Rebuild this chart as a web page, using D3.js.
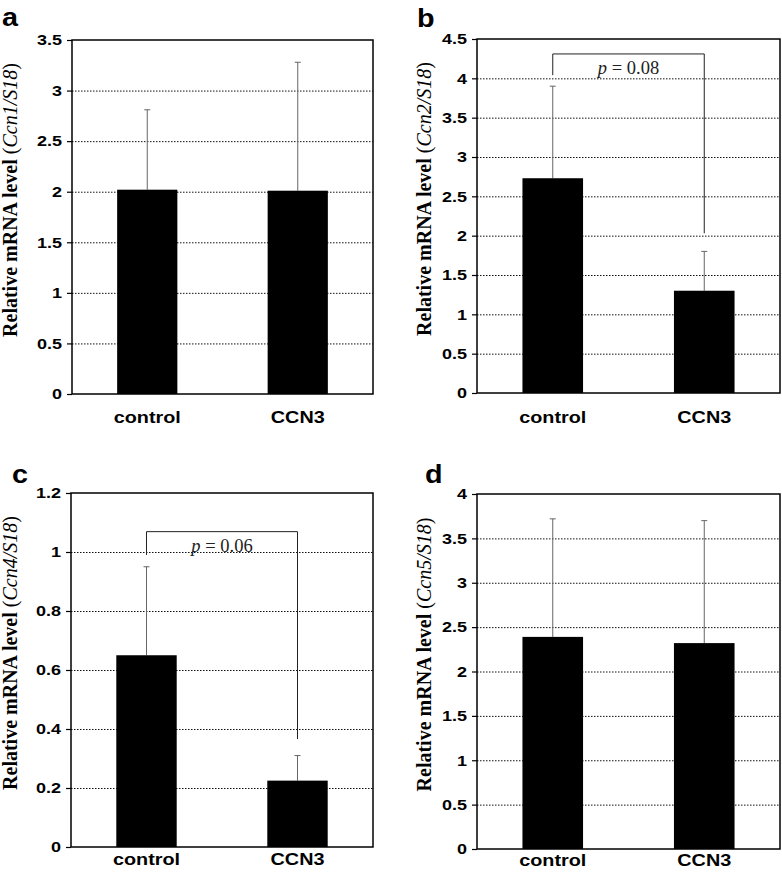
<!DOCTYPE html>
<html>
<head>
<meta charset="utf-8">
<script src="https://cdn.jsdelivr.net/npm/d3@7"></script>
<style>
  body { margin: 0; background: #fff; }
  svg { display: block; }
</style>
</head>
<body>
<div id="app"></div>
<script>
// values
const categories = ["control", "CCN3"];
const letters = ["a", "b", "c", "d"];
const genes = ["Ccn1", "Ccn2", "Ccn4", "Ccn5"];
const means = [[2.02, 2.01], [2.73, 1.30], [0.65, 0.225], [2.39, 2.32]];
const errors = [[0.79, 1.27], [1.17, 0.50], [0.30, 0.085], [1.33, 1.38]];
const yMax = [3.5, 4.5, 1.2, 4];
const yTicks = [
  [0, 0.5, 1, 1.5, 2, 2.5, 3, 3.5],
  [0, 0.5, 1, 1.5, 2, 2.5, 3, 3.5, 4, 4.5],
  [0, 0.2, 0.4, 0.6, 0.8, 1, 1.2],
  [0, 0.5, 1, 1.5, 2, 2.5, 3, 3.5, 4]
];
// significance brackets: [panel, top, left leg end, right leg end, label]
const brackets = [
  [1, 4.31, 4.04, 2.03, "0.08"],
  [2, 1.069, 0.99, 0.366, "0.06"]
];

// layout per panel
const layout = [
  { left: 72, top: 40, right: 373, bottom: 394, lx: 2, ly: 26, tx: 17, cl: 423 },
  { left: 477, top: 39, right: 780, bottom: 393, lx: 417, ly: 27, tx: 431, cl: 423 },
  { left: 71, top: 493, right: 373, bottom: 847, lx: 12, ly: 483, tx: 17, cl: 865 },
  { left: 477, top: 494, right: 780, bottom: 849, lx: 425, ly: 483, tx: 431, cl: 866 }
];

const width = 782, height = 879;
const sans = "Liberation Sans, Arial, Helvetica, sans-serif";
const serif = "Liberation Serif, Times New Roman, serif";
const svg = d3.select("#app").append("svg")
  .attr("width", width)
  .attr("height", height);

const fmt = d3.format("~g");

letters.forEach((letter, i) => {
  const L = layout[i];
  const g = svg.append("g");
  const x = d3.scaleBand().domain(categories)
    .range([L.left, L.right]).paddingInner(0.6).paddingOuter(0.3);
  const y = d3.scaleLinear().domain([0, yMax[i]]).range([L.bottom, L.top]);

  // dotted grid
  g.append("g").selectAll("line")
    .data(yTicks[i].filter(t => t > 0 && t < yMax[i]))
    .join("line")
    .attr("x1", L.left).attr("x2", L.right)
    .attr("y1", d => y(d) + 0.5).attr("y2", d => y(d) + 0.5)
    .attr("stroke", "#111")
    .attr("stroke-width", 1)
    .attr("stroke-dasharray", "1.5,1.5");

  // error bars (upper only)
  const eb = g.append("g").attr("stroke", "#666").attr("stroke-width", 1);
  categories.forEach((c, j) => {
    const cx = x(c) + x.bandwidth() / 2;
    const top = y(means[i][j] + errors[i][j]);
    eb.append("line").attr("x1", cx).attr("x2", cx)
      .attr("y1", y(means[i][j])).attr("y2", top);
    eb.append("line").attr("x1", cx - 3).attr("x2", cx + 3)
      .attr("y1", top).attr("y2", top);
  });

  // bars
  g.append("g").selectAll("rect")
    .data(categories)
    .join("rect")
    .attr("x", d => x(d))
    .attr("width", x.bandwidth())
    .attr("y", (d, j) => y(means[i][j]))
    .attr("height", (d, j) => y(0) - y(means[i][j]))
    .attr("fill", "#000");

  // frame
  g.append("rect")
    .attr("x", L.left).attr("y", L.top)
    .attr("width", L.right - L.left).attr("height", L.bottom - L.top)
    .attr("fill", "none").attr("stroke", "#000").attr("stroke-width", 1.5);

  // y axis
  const yAxis = g.append("g")
    .attr("transform", `translate(${L.left},0)`)
    .call(d3.axisLeft(y).tickValues(yTicks[i]).tickFormat(fmt).tickSize(5));
  yAxis.select(".domain").remove();
  yAxis.selectAll("line").attr("stroke", "#000").attr("stroke-width", 1.2);
  yAxis.selectAll("text")
    .attr("x", 0)
    .attr("transform", "translate(-10,0) scale(1.2,1)")
    .attr("font-family", sans)
    .attr("font-weight", "bold")
    .attr("font-size", 15)
    .attr("fill", "#000");

  // category labels
  g.append("g").selectAll("text")
    .data(categories)
    .join("text")
    .attr("transform", d => `translate(${x(d) + x.bandwidth() / 2},${L.cl}) scale(1.2,1)`)
    .attr("text-anchor", "middle")
    .attr("font-family", sans)
    .attr("font-weight", "bold")
    .attr("font-size", 16.5)
    .text(d => d);

  // y title
  const cy = (L.top + L.bottom) / 2 - 17;
  const t = g.append("text")
    .attr("transform", `translate(${L.tx},${cy}) rotate(-90)`)
    .attr("text-anchor", "middle")
    .attr("font-family", serif)
    .attr("font-size", 20);
  t.append("tspan").attr("font-weight", "bold").text("Relative mRNA level ");
  t.append("tspan").text("(");
  t.append("tspan").attr("font-style", "italic").text(`${genes[i]}/S18`);
  t.append("tspan").text(")");

  // panel letter
  g.append("text")
    .attr("transform", `translate(${L.lx},${L.ly}) scale(1.15,1)`)
    .attr("font-family", sans)
    .attr("font-weight", "bold")
    .attr("font-size", 25)
    .text(letter);

  // bracket
  brackets.filter(b => b[0] === i).forEach(b => {
    const x1 = x(categories[0]) + x.bandwidth() / 2;
    const x2 = x(categories[1]) + x.bandwidth() / 2;
    g.append("path")
      .attr("d", `M${x1},${y(b[2])}V${y(b[1])}H${x2}V${y(b[3])}`)
      .attr("fill", "none").attr("stroke", "#222").attr("stroke-width", 1);
    const pt = g.append("text")
      .attr("x", (x1 + x2) / 2)
      .attr("y", y(b[1]) + 20)
      .attr("text-anchor", "middle")
      .attr("font-family", serif)
      .attr("font-size", 18.5)
      .attr("fill", "#222");
    pt.append("tspan").attr("font-style", "italic").text("p");
    pt.append("tspan").text(` = ${b[4]}`);
  });
});
</script>
</body>
</html>
